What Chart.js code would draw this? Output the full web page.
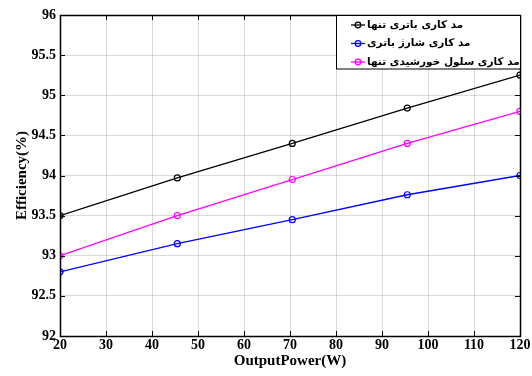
<!DOCTYPE html>
<html>
<head>
<meta charset="utf-8">
<script src="https://cdn.jsdelivr.net/npm/chart.js@4/dist/chart.umd.min.js"></script>
<style>
  html, body { margin: 0; padding: 0; background: #fff; }
  #wrap { width: 532px; height: 376px; }
</style>
</head>
<body>
<div id="wrap"><canvas id="chart"></canvas></div>
<script>
const outputPower = [20, 45.5, 70.5, 95.5, 120];
const batteryOnly = [93.5, 93.97, 94.4, 94.84, 95.25];
const batteryCharge = [92.8, 93.15, 93.45, 93.76, 94.0];
const solarOnly = [93.0, 93.5, 93.95, 94.4, 94.8];
const seriesNames = ['مد کاری باتری تنها', 'مد کاری شارژ باتری', 'مد کاری سلول خورشیدی تنها'];
const seriesColors = ['#000000', '#0000ff', '#ff00ff'];

const toPoints = (ys) => ys.map((y, i) => ({ x: outputPower[i], y }));

const serif = '"Liberation Serif", "Times New Roman", serif';

// inward ticks + full frame, like the original plot
const framePlugin = {
  id: 'frame',
  afterDatasetsDraw(chart) {
    const { ctx, chartArea: a, scales } = chart;
    ctx.save();
    ctx.strokeStyle = '#000';
    ctx.lineWidth = 1;
    const len = 5;
    ctx.beginPath();
    scales.x.ticks.forEach(t => {
      const px = Math.round(scales.x.getPixelForValue(t.value)) + 0.5;
      ctx.moveTo(px, a.bottom); ctx.lineTo(px, a.bottom - len);
      ctx.moveTo(px, a.top); ctx.lineTo(px, a.top + len);
    });
    scales.y.ticks.forEach(t => {
      const py = Math.round(scales.y.getPixelForValue(t.value)) + 0.5;
      ctx.moveTo(a.left, py); ctx.lineTo(a.left + len, py);
      ctx.moveTo(a.right, py); ctx.lineTo(a.right - len, py);
    });
    ctx.stroke();
    ctx.lineWidth = 1.5;
    ctx.strokeRect(Math.round(a.left) + 0.5, Math.round(a.top) + 0.5, Math.round(a.right - a.left), Math.round(a.bottom - a.top));
    ctx.restore();
  }
};

// legend box drawn inside the plot, top right
const legendPlugin = {
  id: 'boxLegend',
  afterDraw(chart) {
    const { ctx, chartArea: a } = chart;
    const w = 184, rowH = 18.5;
    const x0 = Math.round(a.right - w), y0 = Math.round(a.top);
    const h = rowH * chart.data.datasets.length - 2;
    ctx.save();
    ctx.fillStyle = '#fff';
    ctx.fillRect(x0, y0, w, h);
    ctx.strokeStyle = '#000';
    ctx.lineWidth = 1;
    ctx.strokeRect(x0 + 0.5, y0 + 0.5, w, h);
    ctx.font = 'bold 10.5px "DejaVu Sans", sans-serif';
    ctx.textBaseline = 'middle';
    ctx.direction = 'rtl';
    ctx.textAlign = 'left';
    chart.data.datasets.forEach((ds, i) => {
      const cy = y0 + 10 + i * rowH;
      const lx = x0 + 15;
      ctx.strokeStyle = ds.borderColor;
      ctx.lineWidth = 1.3;
      ctx.beginPath();
      ctx.moveTo(lx, cy); ctx.lineTo(lx + 14, cy);
      ctx.stroke();
      ctx.beginPath();
      ctx.arc(lx + 7, cy, 2.8, 0, Math.PI * 2);
      ctx.stroke();
      ctx.fillStyle = '#000';
      ctx.fillText(ds.label, lx + 16, cy);
    });
    ctx.restore();
  }
};

new Chart(document.getElementById('chart'), {
  type: 'line',
  data: {
    datasets: [batteryOnly, batteryCharge, solarOnly].map((ys, i) => ({
      label: seriesNames[i],
      data: toPoints(ys),
      borderColor: seriesColors[i],
      backgroundColor: 'transparent',
      borderWidth: 1.3,
      pointRadius: 3,
      pointBorderWidth: 1.2,
      pointBackgroundColor: 'transparent',
      pointBorderColor: seriesColors[i],
      tension: 0
    }))
  },
  plugins: [framePlugin, legendPlugin],
  options: {
    responsive: true,
    maintainAspectRatio: false,
    animation: false,
    layout: { padding: { left: 0, right: 12, top: 15, bottom: 0 } },
    plugins: { legend: { display: false }, tooltip: { enabled: false } },
    scales: {
      x: {
        type: 'linear',
        min: 20,
        max: 120,
        afterFit: (s) => { s.height = 40; },
        ticks: { stepSize: 10, color: '#000', padding: 1, font: { family: serif, size: 14, weight: 'bold' } },
        grid: { color: 'rgba(0,0,0,0.14)', drawTicks: false },
        border: { display: false },
        title: { display: true, text: 'OutputPower(W)', color: '#000', padding: { top: 0, bottom: 6 }, font: { family: serif, size: 15, weight: 'bold' } }
      },
      y: {
        min: 92,
        max: 96,
        afterFit: (s) => { s.width = 60; },
        ticks: { stepSize: 0.5, color: '#000', padding: 4, font: { family: serif, size: 14, weight: 'bold' },
          callback: (v) => String(Math.round(v * 10) / 10) },
        grid: { color: 'rgba(0,0,0,0.14)', drawTicks: false },
        border: { display: false },
        title: { display: true, text: 'Efficiency(%)', color: '#000', padding: { top: 13, bottom: 0 }, font: { family: serif, size: 15, weight: 'bold' } }
      }
    }
  }
});
</script>
</body>
</html>
